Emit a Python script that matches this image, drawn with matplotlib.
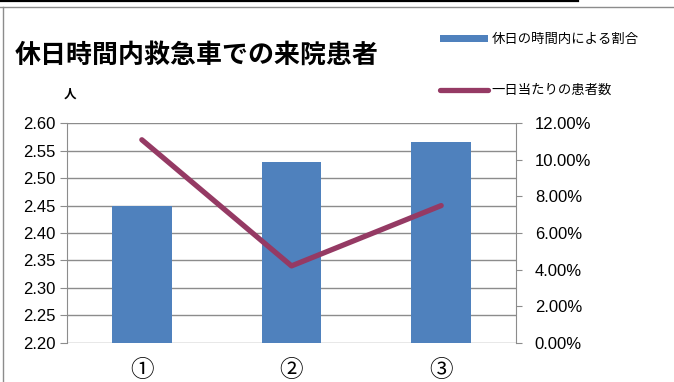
import matplotlib.pyplot as plt
from matplotlib.lines import Line2D
from matplotlib.ticker import FuncFormatter

plt.rcParams['font.family'] = ['Noto Sans CJK JP', 'DejaVu Sans']

# data
categories = ['①', '②', '③']
ratio_pct = [7.5, 9.9, 11.0]           # 休日の時間内による割合 (%)
patients_per_day = [2.57, 2.34, 2.45]  # 一日当たりの患者数 (人)
left_ticks = [2.20, 2.25, 2.30, 2.35, 2.40, 2.45, 2.50, 2.55, 2.60]
right_ticks = [0, 2, 4, 6, 8, 10, 12]

bar_color = '#4F81BD'
line_color = '#953A64'
grid_color = '#8C8C8C'

fig = plt.figure(figsize=(6.74, 3.82), dpi=100)
ax = fig.add_axes([0.0994, 0.1029, 0.6662, 0.5743])
ax2 = ax.twinx()

x = list(range(len(categories)))

# bars on the percent axis, line on the people axis
ax2.bar(x, ratio_pct, width=0.4, color=bar_color, zorder=2, label='休日の時間内による割合')
ax.set_zorder(ax2.get_zorder() + 1)
ax.patch.set_visible(False)
ax.plot(x, patients_per_day, color=line_color, lw=3.8, solid_capstyle='round',
        label='一日当たりの患者数')

ax.set_xlim(-0.5, 2.5)
ax.set_ylim(2.20, 2.60)
ax2.set_ylim(0, 12)
ax.set_yticks(left_ticks)
ax2.set_yticks(right_ticks)
ax.yaxis.set_major_formatter(FuncFormatter(lambda v, p: f'{v:.2f}'))
ax2.yaxis.set_major_formatter(FuncFormatter(lambda v, p: f'{v:.2f}%'))

ax.set_xticks(x)
ax.set_xticklabels(categories, fontsize=17)
ax.tick_params(axis='x', length=0, pad=12)
ax2.tick_params(axis='x', length=0)

for a in (ax, ax2):
    for s in a.spines.values():
        s.set_visible(False)
ax.spines['left'].set_visible(True)
ax.spines['left'].set_color(grid_color)
ax2.spines['right'].set_visible(True)
ax2.spines['right'].set_color(grid_color)

ax.tick_params(axis='y', length=5, color=grid_color, labelsize=12, pad=3)
ax2.tick_params(axis='y', length=4.5, color=grid_color, labelsize=12, pad=9)
for lab in ax.get_yticklabels() + ax2.get_yticklabels():
    lab.set_family(['Liberation Sans', 'DejaVu Sans'])

# horizontal gridlines behind the bars
for v in left_ticks:
    ax2.axhline((v - 2.20) / 0.40 * 12, color=grid_color, lw=1, zorder=0)

fig.text(0.022, 0.855, '休日時間内救急車での来院患者', fontsize=18.7, fontweight='bold',
         va='center', ha='left')
fig.text(0.104, 0.754, '人', fontsize=9, fontweight='bold', ha='center', va='center')

h1, l1 = ax2.get_legend_handles_labels()
h2, l2 = ax.get_legend_handles_labels()
fig.legend(h1 + h2, l1 + l2, loc='upper left', bbox_to_anchor=(0.653, 0.915),
           frameon=False, fontsize=9.6, handlelength=3.6, handleheight=0.45,
           handletextpad=0.25, labelspacing=2.75, borderpad=0, borderaxespad=0)

# chart frame
fig.add_artist(Line2D([0, 578 / 674], [1 - 1 / 382, 1 - 1 / 382], color='black', lw=1.6))
fig.add_artist(Line2D([0, 1], [1 - 7 / 382, 1 - 7 / 382], color='#8C8C8C', lw=1))
fig.add_artist(Line2D([3 / 674, 3 / 674], [0, 1 - 7 / 382], color='#8C8C8C', lw=1))

fig.savefig('out.png', dpi=100)
